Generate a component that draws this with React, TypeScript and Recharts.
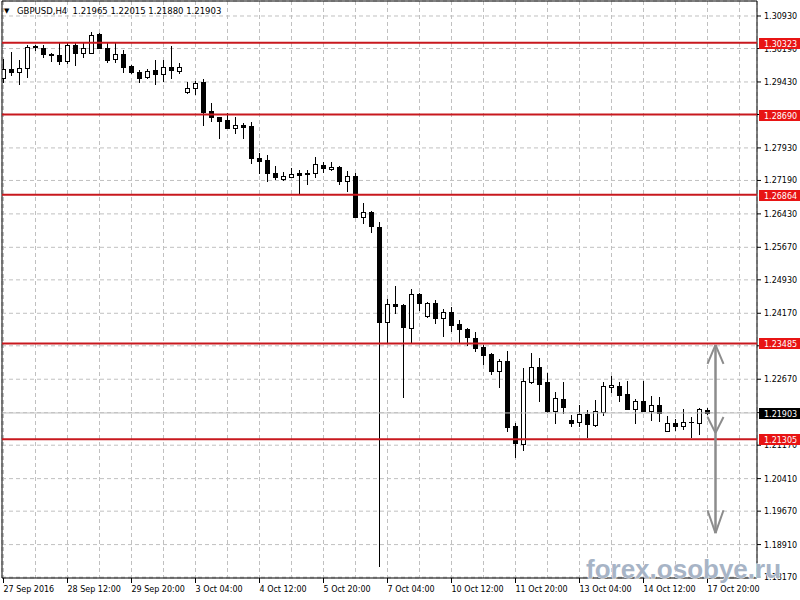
import React from 'react';
import { ComposedChart, Bar, XAxis, YAxis, CartesianGrid, ReferenceLine } from 'recharts';

// GBPUSD H4, 89 bars
const timeLabels = [
  '27 Sep 2016', '28 Sep 12:00', '29 Sep 20:00', '3 Oct 04:00', '4 Oct 12:00', '5 Oct 20:00',
  '7 Oct 04:00', '10 Oct 12:00', '11 Oct 20:00', '13 Oct 04:00', '14 Oct 12:00', '17 Oct 20:00',
];

const priceTicks = [
  1.1817, 1.1891, 1.1967, 1.2041, 1.2117, 1.2191, 1.2267, 1.2343, 1.2417,
  1.2493, 1.2567, 1.2643, 1.2719, 1.2793, 1.2869, 1.2943, 1.3019, 1.3093,
];

const open = [
  1.2952, 1.29725, 1.29657, 1.29748, 1.30248, 1.30203, 1.30066, 1.30043, 1.29907, 1.30271,
  1.30089, 1.30089, 1.30521, 1.30203, 1.29952, 1.30066, 1.29793, 1.29657, 1.29543, 1.29702,
  1.29611, 1.2977, 1.29679, 1.29202, 1.29293, 1.29429, 1.2877, 1.28633, 1.28565, 1.28383,
  1.28451, 1.28429, 1.27701, 1.27656, 1.2736, 1.27224, 1.27269, 1.2736, 1.2736, 1.2736,
  1.27542, 1.27451, 1.27496, 1.27178, 1.27292, 1.26359, 1.26473, 1.26132, 1.23972, 1.24381,
  1.24358, 1.23835, 1.24608, 1.24108, 1.24404, 1.24063, 1.24199, 1.23926, 1.23812, 1.23608,
  1.23403, 1.23244, 1.22857, 1.23085, 1.21607, 1.21197, 1.22607, 1.22948, 1.22607, 1.21948,
  1.22221, 1.21743, 1.21698, 1.2188, 1.2163, 1.21925, 1.22494, 1.22516, 1.22334, 1.21993,
  1.22175, 1.21948, 1.22084, 1.21493, 1.21675, 1.21607, 1.21698, 1.21675, 1.21965,
];
const high = [
  1.29952, 1.30112, 1.2993, 1.30271, 1.30271, 1.30271, 1.30089, 1.30316, 1.30316, 1.30316,
  1.30316, 1.30566, 1.30544, 1.30316, 1.30316, 1.30157, 1.29816, 1.29702, 1.29725, 1.2993,
  1.2993, 1.30248, 1.29861, 1.29429, 1.29452, 1.29497, 1.28952, 1.2864, 1.28724, 1.28633,
  1.28497, 1.2852, 1.27815, 1.27769, 1.27519, 1.27383, 1.27474, 1.27428, 1.27428, 1.27724,
  1.2761, 1.2761, 1.27519, 1.27406, 1.2736, 1.26678, 1.26496, 1.26246, 1.24495, 1.2479,
  1.24381, 1.24722, 1.24631, 1.24427, 1.24472, 1.24267, 1.24313, 1.24017, 1.23835, 1.23744,
  1.23449, 1.23267, 1.2313, 1.23312, 1.21675, 1.22926, 1.23267, 1.23153, 1.22812, 1.2238,
  1.22607, 1.21857, 1.22084, 1.21971, 1.22198, 1.22607, 1.22744, 1.22607, 1.2263, 1.22221,
  1.2263, 1.22289, 1.22266, 1.21834, 1.21766, 1.21993, 1.21811, 1.22016, 1.22015,
];
const low = [
  1.29429, 1.29588, 1.29384, 1.29543, 1.30157, 1.29998, 1.29907, 1.29839, 1.29861, 1.29816,
  1.29998, 1.3008, 1.30195, 1.29884, 1.29884, 1.29657, 1.29634, 1.29429, 1.2952, 1.29384,
  1.29452, 1.2952, 1.29634, 1.29179, 1.29156, 1.28451, 1.28542, 1.28156, 1.28375, 1.2827,
  1.28156, 1.27587, 1.2736, 1.27178, 1.27224, 1.27201, 1.2726, 1.26905, 1.2711, 1.27269,
  1.27383, 1.27428, 1.2711, 1.26951, 1.2635, 1.26223, 1.26018, 1.18423, 1.23517, 1.24176,
  1.22266, 1.23517, 1.24245, 1.24085, 1.23949, 1.23653, 1.23767, 1.23517, 1.23449, 1.23312,
  1.23016, 1.22789, 1.22494, 1.21493, 1.20902, 1.21061, 1.22585, 1.22175, 1.21925, 1.21675,
  1.21902, 1.21607, 1.21607, 1.21357, 1.21607, 1.21857, 1.2238, 1.22175, 1.21985, 1.21675,
  1.2194, 1.21743, 1.2172, 1.21485, 1.21516, 1.21539, 1.21357, 1.21425, 1.2188,
];
const close = [
  1.29725, 1.29657, 1.29748, 1.30225, 1.30225, 1.30066, 1.30043, 1.29907, 1.30271, 1.30089,
  1.30203, 1.30498, 1.30203, 1.2993, 1.30066, 1.2977, 1.29657, 1.2952, 1.29679, 1.29611,
  1.2977, 1.29702, 1.2977, 1.29293, 1.29407, 1.28747, 1.28633, 1.28542, 1.28383, 1.28451,
  1.28406, 1.27701, 1.27633, 1.2736, 1.27269, 1.27292, 1.27337, 1.27315, 1.27337, 1.27565,
  1.27474, 1.27496, 1.27178, 1.27292, 1.26359, 1.26473, 1.26155, 1.23972, 1.24381, 1.24336,
  1.23858, 1.24608, 1.24404, 1.24404, 1.24063, 1.24199, 1.23903, 1.23812, 1.23631, 1.2338,
  1.23221, 1.22857, 1.23085, 1.21584, 1.2122, 1.2263, 1.22948, 1.22562, 1.21948, 1.22243,
  1.22039, 1.21675, 1.2188, 1.21652, 1.21948, 1.22516, 1.22539, 1.22312, 1.21993, 1.22175,
  1.21948, 1.22084, 1.21902, 1.21675, 1.21607, 1.21698, 1.217, 1.21993, 1.21903,
];

const levels = ['1.30323', '1.28690', '1.26864', '1.23485', '1.21305'];
const lastPrice = '1.21903';
// range arrow drawn by hand on the chart: top, middle head, bottom
const arrowLevels = [1.2345, 1.2145, 1.1917];
const arrowBar = 89;

const data = open.map((o, i) => ({
  i,
  o,
  h: high[i],
  l: low[i],
  c: close[i],
  range: [low[i], high[i]],
}));

const xTicks = Array.from({ length: 24 }, (_, k) => k * 4);
const X_DOMAIN = [-0.1875, 94.1875];
const Y_DOMAIN = [1.1815, 1.31271];
const MARGIN = { top: 1, right: 0, bottom: 0, left: 2 };
const FONT = '"DejaVu Sans", Tahoma, sans-serif';

const Candle = (props: any) => {
  const { x, y, width, height, payload } = props;
  if (x == null || !payload) return null;
  const top = Math.min(y, y + height);
  const span = Math.abs(height);
  const k = payload.h - payload.l > 0 ? span / (payload.h - payload.l) : 0;
  const py = (v: number) => Math.round(top + (payload.h - v) * k);
  const cx = Math.floor(x + width / 2);
  const yo = py(payload.o);
  const yc = py(payload.c);
  const bTop = Math.min(yo, yc);
  const bBot = Math.max(yo, yc);
  const bull = payload.c >= payload.o;
  return (
    <g>
      <line x1={cx + 0.5} x2={cx + 0.5} y1={py(payload.h)} y2={py(payload.l) + 1} stroke="#000" />
      {bBot - bTop < 1 ? (
        <line x1={cx - 2} x2={cx + 3} y1={bTop + 0.5} y2={bTop + 0.5} stroke="#000" />
      ) : (
        <rect x={cx - 1.5} y={bTop + 0.5} width={4} height={bBot - bTop} fill={bull ? '#fff' : '#000'} stroke="#000" />
      )}
    </g>
  );
};

const TimeTick = (props: any) => {
  const { x, y, payload } = props;
  const v = payload.value;
  if (v % 8 !== 0) return null;
  const px = Math.floor(x) + 0.5;
  return (
    <g>
      <line x1={px} x2={px} y1={y - 5} y2={y} stroke="#000" />
      <text x={px} y={y + 9} fontSize={8} fontFamily={FONT} fill="#000" textAnchor="start">
        {timeLabels[v / 8]}
      </text>
    </g>
  );
};

const PriceTick = (props: any) => {
  const { x, y, payload } = props;
  return (
    <text x={x} y={y + 3} fontSize={8} fontFamily={FONT} fill="#000" textAnchor="start">
      {Number(payload.value).toFixed(5)}
    </text>
  );
};

const PriceTag = (props: any) => {
  const { viewBox, text, bg } = props;
  if (!viewBox) return null;
  const yy = Math.round(viewBox.y);
  const left = viewBox.x + viewBox.width + 2;
  return (
    <g>
      <rect x={left} y={yy - 5} width={41} height={11} fill={bg} />
      <text x={left + 5} y={yy + 4} fontSize={8} fontFamily={FONT} fill="#fff">
        {text}
      </text>
    </g>
  );
};

export default function App() {
  const [aTop, aMid, aBot] = arrowLevels;
  const gray = '#8c8c8c';
  return (
    <div style={{ position: 'absolute', left: 0, top: 0, width: 800, height: 600, background: '#fff' }}>
      <ComposedChart width={800} height={600} data={data} margin={MARGIN}>
        <CartesianGrid stroke="#c0c0c0" strokeDasharray="4 3" />
        <XAxis
          dataKey="i"
          type="number"
          domain={X_DOMAIN}
          allowDataOverflow
          ticks={xTicks}
          interval={0}
          height={22}
          tickLine={false}
          tickSize={5}
          tickMargin={0}
          axisLine={{ stroke: '#000' }}
          tick={<TimeTick />}
        />
        <YAxis
          orientation="right"
          type="number"
          domain={Y_DOMAIN}
          allowDataOverflow
          ticks={priceTicks}
          interval={0}
          width={43}
          tickSize={4}
          tickMargin={3}
          tickLine={{ stroke: '#000' }}
          axisLine={{ stroke: '#000' }}
          tick={<PriceTick />}
        />
        <ReferenceLine x={X_DOMAIN[0]} stroke="#000" />
        <ReferenceLine y={Y_DOMAIN[1]} stroke="#000" />
        <ReferenceLine y={Number(lastPrice)} stroke="#c0c0c0" />
        <Bar dataKey="range" barSize={5} shape={<Candle />} isAnimationActive={false} />
      </ComposedChart>

      {/* second layer with the same scales: level lines, price tags and the arrow sit above candles and axis text */}
      <div style={{ position: 'absolute', left: 0, top: 0, pointerEvents: 'none' }}>
        <ComposedChart width={800} height={600} data={data} margin={MARGIN}>
          <XAxis dataKey="i" type="number" domain={X_DOMAIN} allowDataOverflow height={22} tick={false} tickLine={false} axisLine={false} />
          <YAxis orientation="right" type="number" domain={Y_DOMAIN} allowDataOverflow width={43} tick={false} tickLine={false} axisLine={false} />
          <ReferenceLine y={Number(lastPrice)} stroke="none" label={<PriceTag text={lastPrice} bg="#000" />} />
          {levels.map((lv) => (
            <ReferenceLine
              key={lv}
              y={Number(lv)}
              stroke="#c8181e"
              strokeWidth={2}
              label={<PriceTag text={lv} bg="#e81414" />}
            />
          ))}
          <ReferenceLine segment={[{ x: arrowBar, y: aTop }, { x: arrowBar, y: aBot }]} stroke={gray} strokeWidth={2.5} />
          <ReferenceLine segment={[{ x: arrowBar - 1, y: aTop - 0.0043 }, { x: arrowBar, y: aTop }]} stroke={gray} strokeWidth={2} />
          <ReferenceLine segment={[{ x: arrowBar + 1, y: aTop - 0.0043 }, { x: arrowBar, y: aTop }]} stroke={gray} strokeWidth={2} />
          <ReferenceLine segment={[{ x: arrowBar - 1, y: aMid + 0.0036 }, { x: arrowBar, y: aMid }]} stroke={gray} strokeWidth={2} />
          <ReferenceLine segment={[{ x: arrowBar + 1, y: aMid + 0.0036 }, { x: arrowBar, y: aMid }]} stroke={gray} strokeWidth={2} />
          <ReferenceLine segment={[{ x: arrowBar - 1, y: aBot + 0.0052 }, { x: arrowBar, y: aBot }]} stroke={gray} strokeWidth={2} />
          <ReferenceLine segment={[{ x: arrowBar + 1, y: aBot + 0.0052 }, { x: arrowBar, y: aBot }]} stroke={gray} strokeWidth={2} />
        </ComposedChart>
      </div>

      <svg width={800} height={600} style={{ position: 'absolute', left: 0, top: 0, pointerEvents: 'none' }}>
        <text x={4} y={13} fontSize={7} fontFamily={FONT} fill="#000">▼</text>
        <text x={17} y={14} fontSize={8.5} fontFamily={FONT} fill="#000" xmlSpace="preserve">
          {'GBPUSD,H4  1.21965 1.22015 1.21880 1.21903'}
        </text>
        <text
          x={586}
          y={578}
          fontSize={26}
          fontWeight="bold"
          fontFamily='"Liberation Sans", Arial, sans-serif'
          fill="#a7b4c6"
          stroke="#ffffff"
          strokeWidth={1}
          paintOrder="stroke"
        >
          forex.osobye.ru
        </text>
      </svg>
    </div>
  );
}
